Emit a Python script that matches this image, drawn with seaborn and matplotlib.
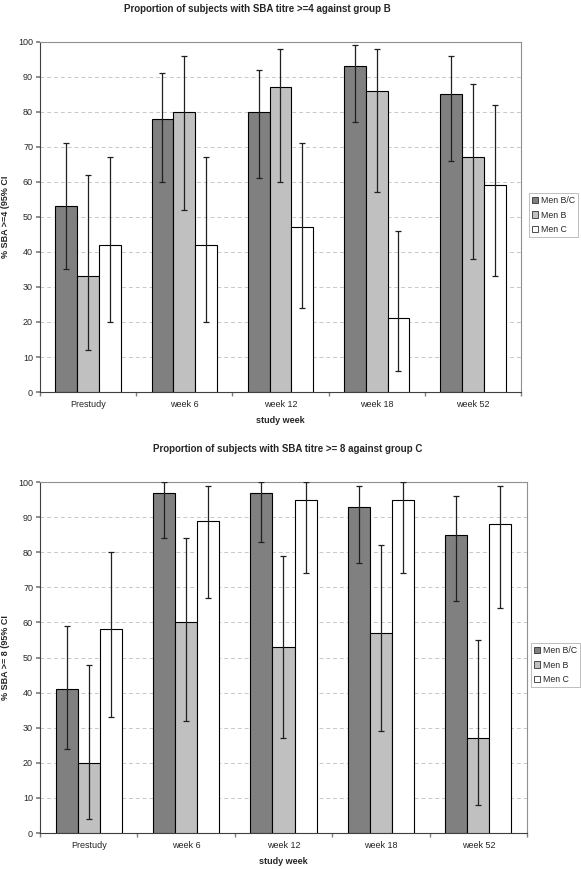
import numpy as np
import pandas as pd
import matplotlib
matplotlib.use('Agg')
import matplotlib.pyplot as plt
import seaborn as sns

# === DATA ===
WEEKS = ['Prestudy', 'week 6', 'week 12', 'week 18', 'week 52']
GROUPS = ['Men B/C', 'Men B', 'Men C']

# panel 1: SBA titre >=4 against group B
top_bc = [53, 78, 80, 93, 85]
top_bc_lo = [35, 60, 61, 77, 66]
top_bc_hi = [71, 91, 92, 99, 96]
top_b = [33, 80, 87, 86, 67]
top_b_lo = [12, 52, 60, 57, 38]
top_b_hi = [62, 96, 98, 98, 88]
top_c = [42, 42, 47, 21, 59]
top_c_lo = [20, 20, 24, 6, 33]
top_c_hi = [67, 67, 71, 46, 82]

# panel 2: SBA titre >= 8 against group C
bot_bc = [41, 97, 97, 93, 85]
bot_bc_lo = [24, 84, 83, 77, 66]
bot_bc_hi = [59, 100, 100, 99, 96]
bot_b = [20, 60, 53, 57, 27]
bot_b_lo = [4, 32, 27, 29, 8]
bot_b_hi = [48, 84, 79, 82, 55]
bot_c = [58, 89, 95, 95, 88]
bot_c_lo = [33, 67, 74, 74, 64]
bot_c_hi = [80, 99, 100, 100, 99]

COLORS = ['#808080', '#c0c0c0', '#ffffff']

sns.set_theme(style='white')
plt.rcParams['font.family'] = ['Liberation Sans', 'DejaVu Sans']


def make_frame(vals, los, his):
    rows = []
    for g, v, lo, hi in zip(GROUPS, vals, los, his):
        for w, vv, l, h in zip(WEEKS, v, lo, hi):
            rows.append({'week': w, 'group': g, 'value': vv, 'lo': l, 'hi': h})
    return pd.DataFrame(rows)


def draw_panel(ax, df, ylabel):
    sns.barplot(data=df, x='week', y='value', hue='group', order=WEEKS,
                hue_order=GROUPS, palette=COLORS, errorbar=None,
                width=0.68, gap=0, edgecolor='black', linewidth=0.8,
                saturation=1, ax=ax, zorder=3)
    # error bars from CI columns
    for cont, g in zip(ax.containers, GROUPS):
        sub = df[df['group'] == g].set_index('week').loc[WEEKS]
        xs = [p.get_x() + p.get_width() / 2 for p in cont.patches]
        yv = sub['value'].values
        err = np.vstack([yv - sub['lo'].values, sub['hi'].values - yv])
        ax.errorbar(xs, yv, yerr=err, fmt='none', ecolor='#202020',
                    elinewidth=0.9, capsize=2, capthick=0.9, zorder=4)

    ax.set_ylim(0, 100)
    ax.set_xlim(-0.5, 4.5)
    ax.set_yticks(np.arange(0, 101, 10))
    ax.yaxis.grid(True, linestyle=(0, (4, 3)), color='#c8c8c8', linewidth=0.7)
    ax.set_axisbelow(True)
    ax.tick_params(axis='y', labelsize=6.5, length=3, left=True, color='#808080', pad=2)
    # category ticks: labels centred, tick marks between groups
    ax.set_xticks(range(len(WEEKS)))
    ax.set_xticklabels(WEEKS, fontsize=6.5)
    ax.tick_params(axis='x', length=0, pad=6)
    ax.set_xticks(np.arange(-0.5, 5, 1), minor=True)
    ax.tick_params(axis='x', which='minor', length=3, bottom=True, color='#808080')
    ax.set_ylabel(ylabel, fontsize=6.5, fontweight='bold', labelpad=6)
    ax.set_xlabel('study week', fontsize=6.5, fontweight='bold', labelpad=5)
    for side in ['top', 'right']:
        ax.spines[side].set_color('#909090')
        ax.spines[side].set_linewidth(0.8)
    for side in ['left', 'bottom']:
        ax.spines[side].set_color('#404040')
        ax.spines[side].set_linewidth(0.8)
    ax.get_legend().remove()
    handles = [plt.Rectangle((0, 0), 1, 1, facecolor=c, edgecolor='#303030', linewidth=0.6)
               for c in COLORS]
    return handles


fig = plt.figure(figsize=(5.81, 8.69), dpi=100)
ax1 = fig.add_axes([0.0688, 0.5489, 0.8279, 0.4028])
ax2 = fig.add_axes([0.0688, 0.0414, 0.8382, 0.4039])

h1 = draw_panel(ax1, make_frame([top_bc, top_b, top_c],
                                [top_bc_lo, top_b_lo, top_c_lo],
                                [top_bc_hi, top_b_hi, top_c_hi]),
                '% SBA >=4 (95% CI')
h2 = draw_panel(ax2, make_frame([bot_bc, bot_b, bot_c],
                                [bot_bc_lo, bot_b_lo, bot_c_lo],
                                [bot_bc_hi, bot_b_hi, bot_c_hi]),
                '% SBA >= 8 (95% CI')

fig.text(257 / 581, 1 - 9 / 869, 'Proportion of subjects with SBA titre >=4 against group B',
         ha='center', va='center', fontsize=7, fontweight='bold')
fig.text(288 / 581, 1 - 449 / 869, 'Proportion of subjects with SBA titre >= 8 against group C',
         ha='center', va='center', fontsize=7, fontweight='bold')

leg_kw = dict(fontsize=6.3, frameon=True, fancybox=False, edgecolor='#a0a0a0',
              handlelength=0.7, handleheight=0.7, handletextpad=0.3,
              borderpad=0.35, labelspacing=0.6, borderaxespad=0)
l1 = fig.legend(h1, GROUPS, loc='center left',
                bbox_to_anchor=(529 / 581, 1 - 215 / 869), **leg_kw)
l2 = fig.legend(h2, GROUPS, loc='center left',
                bbox_to_anchor=(531 / 581, 1 - 665 / 869), **leg_kw)
for l in (l1, l2):
    l.get_frame().set_linewidth(0.6)

fig.savefig('out.png', dpi=100)
